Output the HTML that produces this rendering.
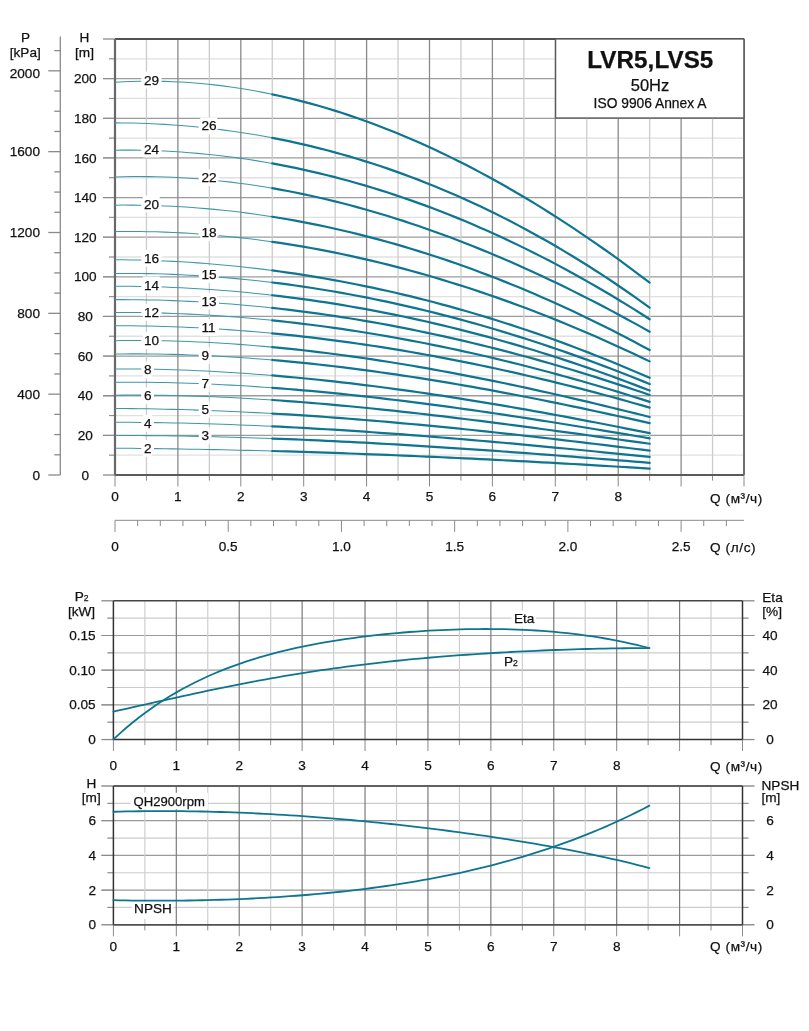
<!DOCTYPE html>
<html><head><meta charset="utf-8"><style>
html,body{margin:0;padding:0;background:#fff;}
svg{display:block;will-change:transform;}
text{font-family:"Liberation Sans", sans-serif;fill:#111;stroke:#111;stroke-width:0.25px;}
</style></head><body>
<svg width="809" height="1031" viewBox="0 0 809 1031">
<line x1="109" y1="455.18" x2="744" y2="455.18" stroke="#e0e0e0" stroke-width="1.3"/>
<line x1="109" y1="455.18" x2="115" y2="455.18" stroke="#8a8a8a" stroke-width="1"/>
<line x1="103" y1="435.36" x2="744" y2="435.36" stroke="#9c9c9c" stroke-width="1.3"/>
<line x1="103" y1="435.36" x2="115" y2="435.36" stroke="#8a8a8a" stroke-width="1"/>
<line x1="109" y1="415.55" x2="744" y2="415.55" stroke="#e0e0e0" stroke-width="1.3"/>
<line x1="109" y1="415.55" x2="115" y2="415.55" stroke="#8a8a8a" stroke-width="1"/>
<line x1="103" y1="395.73" x2="744" y2="395.73" stroke="#9c9c9c" stroke-width="1.3"/>
<line x1="103" y1="395.73" x2="115" y2="395.73" stroke="#8a8a8a" stroke-width="1"/>
<line x1="109" y1="375.91" x2="744" y2="375.91" stroke="#e0e0e0" stroke-width="1.3"/>
<line x1="109" y1="375.91" x2="115" y2="375.91" stroke="#8a8a8a" stroke-width="1"/>
<line x1="103" y1="356.09" x2="744" y2="356.09" stroke="#9c9c9c" stroke-width="1.3"/>
<line x1="103" y1="356.09" x2="115" y2="356.09" stroke="#8a8a8a" stroke-width="1"/>
<line x1="109" y1="336.27" x2="744" y2="336.27" stroke="#e0e0e0" stroke-width="1.3"/>
<line x1="109" y1="336.27" x2="115" y2="336.27" stroke="#8a8a8a" stroke-width="1"/>
<line x1="103" y1="316.46" x2="744" y2="316.46" stroke="#9c9c9c" stroke-width="1.3"/>
<line x1="103" y1="316.46" x2="115" y2="316.46" stroke="#8a8a8a" stroke-width="1"/>
<line x1="109" y1="296.64" x2="744" y2="296.64" stroke="#e0e0e0" stroke-width="1.3"/>
<line x1="109" y1="296.64" x2="115" y2="296.64" stroke="#8a8a8a" stroke-width="1"/>
<line x1="103" y1="276.82" x2="744" y2="276.82" stroke="#9c9c9c" stroke-width="1.3"/>
<line x1="103" y1="276.82" x2="115" y2="276.82" stroke="#8a8a8a" stroke-width="1"/>
<line x1="109" y1="257" x2="744" y2="257" stroke="#e0e0e0" stroke-width="1.3"/>
<line x1="109" y1="257" x2="115" y2="257" stroke="#8a8a8a" stroke-width="1"/>
<line x1="103" y1="237.18" x2="744" y2="237.18" stroke="#9c9c9c" stroke-width="1.3"/>
<line x1="103" y1="237.18" x2="115" y2="237.18" stroke="#8a8a8a" stroke-width="1"/>
<line x1="109" y1="217.37" x2="744" y2="217.37" stroke="#e0e0e0" stroke-width="1.3"/>
<line x1="109" y1="217.37" x2="115" y2="217.37" stroke="#8a8a8a" stroke-width="1"/>
<line x1="103" y1="197.55" x2="744" y2="197.55" stroke="#9c9c9c" stroke-width="1.3"/>
<line x1="103" y1="197.55" x2="115" y2="197.55" stroke="#8a8a8a" stroke-width="1"/>
<line x1="109" y1="177.73" x2="744" y2="177.73" stroke="#e0e0e0" stroke-width="1.3"/>
<line x1="109" y1="177.73" x2="115" y2="177.73" stroke="#8a8a8a" stroke-width="1"/>
<line x1="103" y1="157.91" x2="744" y2="157.91" stroke="#9c9c9c" stroke-width="1.3"/>
<line x1="103" y1="157.91" x2="115" y2="157.91" stroke="#8a8a8a" stroke-width="1"/>
<line x1="109" y1="138.09" x2="744" y2="138.09" stroke="#e0e0e0" stroke-width="1.3"/>
<line x1="109" y1="138.09" x2="115" y2="138.09" stroke="#8a8a8a" stroke-width="1"/>
<line x1="103" y1="118.28" x2="744" y2="118.28" stroke="#9c9c9c" stroke-width="1.3"/>
<line x1="103" y1="118.28" x2="115" y2="118.28" stroke="#8a8a8a" stroke-width="1"/>
<line x1="109" y1="98.46" x2="744" y2="98.46" stroke="#e0e0e0" stroke-width="1.3"/>
<line x1="109" y1="98.46" x2="115" y2="98.46" stroke="#8a8a8a" stroke-width="1"/>
<line x1="103" y1="78.64" x2="744" y2="78.64" stroke="#9c9c9c" stroke-width="1.3"/>
<line x1="103" y1="78.64" x2="115" y2="78.64" stroke="#8a8a8a" stroke-width="1"/>
<line x1="109" y1="58.82" x2="744" y2="58.82" stroke="#e0e0e0" stroke-width="1.3"/>
<line x1="109" y1="58.82" x2="115" y2="58.82" stroke="#8a8a8a" stroke-width="1"/>
<line x1="146.45" y1="39" x2="146.45" y2="475" stroke="#cccccc" stroke-width="1.3"/>
<line x1="177.9" y1="39" x2="177.9" y2="475" stroke="#8a8a8a" stroke-width="1.3"/>
<line x1="209.35" y1="39" x2="209.35" y2="475" stroke="#cccccc" stroke-width="1.3"/>
<line x1="240.8" y1="39" x2="240.8" y2="475" stroke="#8a8a8a" stroke-width="1.3"/>
<line x1="272.25" y1="39" x2="272.25" y2="475" stroke="#cccccc" stroke-width="1.3"/>
<line x1="303.7" y1="39" x2="303.7" y2="475" stroke="#8a8a8a" stroke-width="1.3"/>
<line x1="335.15" y1="39" x2="335.15" y2="475" stroke="#cccccc" stroke-width="1.3"/>
<line x1="366.6" y1="39" x2="366.6" y2="475" stroke="#8a8a8a" stroke-width="1.3"/>
<line x1="398.05" y1="39" x2="398.05" y2="475" stroke="#cccccc" stroke-width="1.3"/>
<line x1="429.5" y1="39" x2="429.5" y2="475" stroke="#8a8a8a" stroke-width="1.3"/>
<line x1="460.95" y1="39" x2="460.95" y2="475" stroke="#cccccc" stroke-width="1.3"/>
<line x1="492.4" y1="39" x2="492.4" y2="475" stroke="#8a8a8a" stroke-width="1.3"/>
<line x1="523.85" y1="39" x2="523.85" y2="475" stroke="#cccccc" stroke-width="1.3"/>
<line x1="555.3" y1="39" x2="555.3" y2="475" stroke="#8a8a8a" stroke-width="1.3"/>
<line x1="586.75" y1="39" x2="586.75" y2="475" stroke="#cccccc" stroke-width="1.3"/>
<line x1="618.2" y1="39" x2="618.2" y2="475" stroke="#8a8a8a" stroke-width="1.3"/>
<line x1="649.65" y1="39" x2="649.65" y2="475" stroke="#cccccc" stroke-width="1.3"/>
<line x1="681.1" y1="39" x2="681.1" y2="475" stroke="#8a8a8a" stroke-width="1.3"/>
<line x1="712.55" y1="39" x2="712.55" y2="475" stroke="#cccccc" stroke-width="1.3"/>
<line x1="744" y1="39" x2="744" y2="475" stroke="#8a8a8a" stroke-width="1.3"/>
<line x1="115" y1="475" x2="115" y2="486.5" stroke="#8a8a8a" stroke-width="1"/>
<line x1="146.45" y1="475" x2="146.45" y2="480.6" stroke="#8a8a8a" stroke-width="1"/>
<line x1="177.9" y1="475" x2="177.9" y2="486.5" stroke="#8a8a8a" stroke-width="1"/>
<line x1="209.35" y1="475" x2="209.35" y2="480.6" stroke="#8a8a8a" stroke-width="1"/>
<line x1="240.8" y1="475" x2="240.8" y2="486.5" stroke="#8a8a8a" stroke-width="1"/>
<line x1="272.25" y1="475" x2="272.25" y2="480.6" stroke="#8a8a8a" stroke-width="1"/>
<line x1="303.7" y1="475" x2="303.7" y2="486.5" stroke="#8a8a8a" stroke-width="1"/>
<line x1="335.15" y1="475" x2="335.15" y2="480.6" stroke="#8a8a8a" stroke-width="1"/>
<line x1="366.6" y1="475" x2="366.6" y2="486.5" stroke="#8a8a8a" stroke-width="1"/>
<line x1="398.05" y1="475" x2="398.05" y2="480.6" stroke="#8a8a8a" stroke-width="1"/>
<line x1="429.5" y1="475" x2="429.5" y2="486.5" stroke="#8a8a8a" stroke-width="1"/>
<line x1="460.95" y1="475" x2="460.95" y2="480.6" stroke="#8a8a8a" stroke-width="1"/>
<line x1="492.4" y1="475" x2="492.4" y2="486.5" stroke="#8a8a8a" stroke-width="1"/>
<line x1="523.85" y1="475" x2="523.85" y2="480.6" stroke="#8a8a8a" stroke-width="1"/>
<line x1="555.3" y1="475" x2="555.3" y2="486.5" stroke="#8a8a8a" stroke-width="1"/>
<line x1="586.75" y1="475" x2="586.75" y2="480.6" stroke="#8a8a8a" stroke-width="1"/>
<line x1="618.2" y1="475" x2="618.2" y2="486.5" stroke="#8a8a8a" stroke-width="1"/>
<line x1="649.65" y1="475" x2="649.65" y2="480.6" stroke="#8a8a8a" stroke-width="1"/>
<line x1="681.1" y1="475" x2="681.1" y2="486.5" stroke="#8a8a8a" stroke-width="1"/>
<line x1="712.55" y1="475" x2="712.55" y2="480.6" stroke="#8a8a8a" stroke-width="1"/>
<line x1="744" y1="475" x2="744" y2="486.5" stroke="#8a8a8a" stroke-width="1"/>
<line x1="103" y1="39" x2="115" y2="39" stroke="#8a8a8a" stroke-width="1.3"/>
<line x1="103" y1="475" x2="115" y2="475" stroke="#8a8a8a" stroke-width="1.3"/>
<line x1="115" y1="39" x2="744" y2="39" stroke="#525252" stroke-width="2"/>
<line x1="115" y1="475" x2="744" y2="475" stroke="#5a5a5a" stroke-width="2"/>
<line x1="115" y1="39" x2="115" y2="475" stroke="#686868" stroke-width="2.2"/>
<line x1="744" y1="39" x2="744" y2="475" stroke="#707070" stroke-width="2"/>
<line x1="60.3" y1="36.4" x2="60.3" y2="475" stroke="#8a8a8a" stroke-width="1.3"/>
<line x1="48.3" y1="475" x2="60.3" y2="475" stroke="#8a8a8a" stroke-width="1.3"/>
<text x="40" y="479.6" font-size="13.6" text-anchor="end" font-weight="normal" >0</text>
<line x1="54.3" y1="454.79" x2="60.3" y2="454.79" stroke="#8a8a8a" stroke-width="1.3"/>
<line x1="54.3" y1="434.58" x2="60.3" y2="434.58" stroke="#8a8a8a" stroke-width="1.3"/>
<line x1="54.3" y1="414.37" x2="60.3" y2="414.37" stroke="#8a8a8a" stroke-width="1.3"/>
<line x1="48.3" y1="394.17" x2="60.3" y2="394.17" stroke="#8a8a8a" stroke-width="1.3"/>
<text x="40" y="398.77" font-size="13.6" text-anchor="end" font-weight="normal" >400</text>
<line x1="54.3" y1="373.96" x2="60.3" y2="373.96" stroke="#8a8a8a" stroke-width="1.3"/>
<line x1="54.3" y1="353.75" x2="60.3" y2="353.75" stroke="#8a8a8a" stroke-width="1.3"/>
<line x1="54.3" y1="333.54" x2="60.3" y2="333.54" stroke="#8a8a8a" stroke-width="1.3"/>
<line x1="48.3" y1="313.33" x2="60.3" y2="313.33" stroke="#8a8a8a" stroke-width="1.3"/>
<text x="40" y="317.93" font-size="13.6" text-anchor="end" font-weight="normal" >800</text>
<line x1="54.3" y1="293.12" x2="60.3" y2="293.12" stroke="#8a8a8a" stroke-width="1.3"/>
<line x1="54.3" y1="272.91" x2="60.3" y2="272.91" stroke="#8a8a8a" stroke-width="1.3"/>
<line x1="54.3" y1="252.7" x2="60.3" y2="252.7" stroke="#8a8a8a" stroke-width="1.3"/>
<line x1="48.3" y1="232.5" x2="60.3" y2="232.5" stroke="#8a8a8a" stroke-width="1.3"/>
<text x="40" y="237.1" font-size="13.6" text-anchor="end" font-weight="normal" >1200</text>
<line x1="54.3" y1="212.29" x2="60.3" y2="212.29" stroke="#8a8a8a" stroke-width="1.3"/>
<line x1="54.3" y1="192.08" x2="60.3" y2="192.08" stroke="#8a8a8a" stroke-width="1.3"/>
<line x1="54.3" y1="171.87" x2="60.3" y2="171.87" stroke="#8a8a8a" stroke-width="1.3"/>
<line x1="48.3" y1="151.66" x2="60.3" y2="151.66" stroke="#8a8a8a" stroke-width="1.3"/>
<text x="40" y="156.26" font-size="13.6" text-anchor="end" font-weight="normal" >1600</text>
<line x1="54.3" y1="131.45" x2="60.3" y2="131.45" stroke="#8a8a8a" stroke-width="1.3"/>
<line x1="54.3" y1="111.24" x2="60.3" y2="111.24" stroke="#8a8a8a" stroke-width="1.3"/>
<line x1="54.3" y1="91.03" x2="60.3" y2="91.03" stroke="#8a8a8a" stroke-width="1.3"/>
<line x1="48.3" y1="70.83" x2="60.3" y2="70.83" stroke="#8a8a8a" stroke-width="1.3"/>
<text x="40" y="77.73" font-size="13.6" text-anchor="end" font-weight="normal" >2000</text>
<line x1="54.3" y1="50.62" x2="60.3" y2="50.62" stroke="#8a8a8a" stroke-width="1.3"/>
<text x="25.5" y="41.5" font-size="13.6" text-anchor="middle" font-weight="normal" >P</text>
<text x="25.3" y="56.5" font-size="13.6" text-anchor="middle" font-weight="normal" >[kPa]</text>
<text x="85.3" y="479.6" font-size="13.6" text-anchor="middle" font-weight="normal" >0</text>
<text x="85.3" y="439.96" font-size="13.6" text-anchor="middle" font-weight="normal" >20</text>
<text x="85.3" y="400.33" font-size="13.6" text-anchor="middle" font-weight="normal" >40</text>
<text x="85.3" y="360.69" font-size="13.6" text-anchor="middle" font-weight="normal" >60</text>
<text x="85.3" y="321.06" font-size="13.6" text-anchor="middle" font-weight="normal" >80</text>
<text x="85.3" y="281.42" font-size="13.6" text-anchor="middle" font-weight="normal" >100</text>
<text x="85.3" y="241.78" font-size="13.6" text-anchor="middle" font-weight="normal" >120</text>
<text x="85.3" y="202.15" font-size="13.6" text-anchor="middle" font-weight="normal" >140</text>
<text x="85.3" y="162.51" font-size="13.6" text-anchor="middle" font-weight="normal" >160</text>
<text x="85.3" y="122.88" font-size="13.6" text-anchor="middle" font-weight="normal" >180</text>
<text x="85.3" y="83.24" font-size="13.6" text-anchor="middle" font-weight="normal" >200</text>
<text x="84.5" y="41.5" font-size="13.6" text-anchor="middle" font-weight="normal" >H</text>
<text x="84.5" y="56.5" font-size="13.6" text-anchor="middle" font-weight="normal" >[m]</text>
<text x="115" y="501.2" font-size="13.6" text-anchor="middle" font-weight="normal" >0</text>
<text x="177.9" y="501.2" font-size="13.6" text-anchor="middle" font-weight="normal" >1</text>
<text x="240.8" y="501.2" font-size="13.6" text-anchor="middle" font-weight="normal" >2</text>
<text x="303.7" y="501.2" font-size="13.6" text-anchor="middle" font-weight="normal" >3</text>
<text x="366.6" y="501.2" font-size="13.6" text-anchor="middle" font-weight="normal" >4</text>
<text x="429.5" y="501.2" font-size="13.6" text-anchor="middle" font-weight="normal" >5</text>
<text x="492.4" y="501.2" font-size="13.6" text-anchor="middle" font-weight="normal" >6</text>
<text x="555.3" y="501.2" font-size="13.6" text-anchor="middle" font-weight="normal" >7</text>
<text x="618.2" y="501.2" font-size="13.6" text-anchor="middle" font-weight="normal" >8</text>
<text x="710" y="503" font-size="13.6" text-anchor="start" font-weight="normal" textLength="52.3" lengthAdjust="spacing">Q (м³/ч)</text>
<polyline points="115,82.17 123.28,81.74 131.55,81.42 139.83,81.23 148.11,81.15 156.38,81.2 164.66,81.37 172.93,81.66 181.21,82.07 189.49,82.6 197.76,83.25 206.04,84.01 214.32,84.89 222.59,85.89 230.87,87.01 239.14,88.24 247.42,89.58 255.7,91.04 263.97,92.62 272.25,94.3" fill="none" stroke="#3d97aa" stroke-width="1.05"/>
<polyline points="272.25,94.3 279.95,95.97 287.65,97.74 295.36,99.61 303.06,101.57 310.76,103.63 318.46,105.79 326.16,108.04 333.87,110.38 341.57,112.82 349.27,115.35 356.97,117.98 364.67,120.7 372.38,123.51 380.08,126.41 387.78,129.41 395.48,132.5 403.18,135.67 410.89,138.94 418.59,142.3 426.29,145.75 433.99,149.28 441.69,152.91 449.4,156.62 457.1,160.42 464.8,164.31 472.5,168.28 480.21,172.35 487.91,176.49 495.61,180.73 503.31,185.04 511.01,189.45 518.72,193.93 526.42,198.5 534.12,203.16 541.82,207.9 549.52,212.72 557.23,217.62 564.93,222.6 572.63,227.66 580.33,232.81 588.03,238.04 595.74,243.34 603.44,248.73 611.14,254.19 618.84,259.73 626.54,265.35 634.25,271.05 641.95,276.82 649.65,282.68" fill="none" stroke="#0e7590" stroke-width="2.2" stroke-linejoin="round" stroke-linecap="round"/>
<polyline points="115,122.86 123.28,122.92 131.55,123.05 139.83,123.26 148.11,123.56 156.38,123.93 164.66,124.38 172.93,124.92 181.21,125.54 189.49,126.24 197.76,127.02 206.04,127.88 214.32,128.83 222.59,129.86 230.87,130.98 239.14,132.18 247.42,133.46 255.7,134.84 263.97,136.29 272.25,137.84" fill="none" stroke="#3d97aa" stroke-width="1.05"/>
<polyline points="272.25,137.84 279.95,139.35 287.65,140.94 295.36,142.61 303.06,144.35 310.76,146.17 318.46,148.07 326.16,150.04 333.87,152.09 341.57,154.22 349.27,156.43 356.97,158.72 364.67,161.09 372.38,163.53 380.08,166.06 387.78,168.66 395.48,171.35 403.18,174.12 410.89,176.97 418.59,179.9 426.29,182.91 433.99,186.01 441.69,189.19 449.4,192.45 457.1,195.79 464.8,199.22 472.5,202.74 480.21,206.34 487.91,210.02 495.61,213.79 503.31,217.64 511.01,221.58 518.72,225.61 526.42,229.72 534.12,233.92 541.82,238.21 549.52,242.58 557.23,247.05 564.93,251.6 572.63,256.24 580.33,260.97 588.03,265.79 595.74,270.7 603.44,275.7 611.14,280.79 618.84,285.98 626.54,291.25 634.25,296.61 641.95,302.07 649.65,307.62" fill="none" stroke="#0e7590" stroke-width="2.2" stroke-linejoin="round" stroke-linecap="round"/>
<polyline points="115,150.17 123.28,150.11 131.55,150.14 139.83,150.25 148.11,150.44 156.38,150.72 164.66,151.08 172.93,151.52 181.21,152.05 189.49,152.67 197.76,153.37 206.04,154.15 214.32,155.01 222.59,155.97 230.87,157 239.14,158.12 247.42,159.32 255.7,160.61 263.97,161.98 272.25,163.44" fill="none" stroke="#3d97aa" stroke-width="1.05"/>
<polyline points="272.25,163.44 279.95,164.87 287.65,166.37 295.36,167.95 303.06,169.6 310.76,171.32 318.46,173.12 326.16,174.98 333.87,176.93 341.57,178.94 349.27,181.03 356.97,183.19 364.67,185.42 372.38,187.72 380.08,190.1 387.78,192.55 395.48,195.08 403.18,197.67 410.89,200.34 418.59,203.09 426.29,205.9 433.99,208.79 441.69,211.75 449.4,214.78 457.1,217.89 464.8,221.07 472.5,224.32 480.21,227.65 487.91,231.05 495.61,234.52 503.31,238.06 511.01,241.68 518.72,245.37 526.42,249.13 534.12,252.96 541.82,256.87 549.52,260.85 557.23,264.9 564.93,269.03 572.63,273.23 580.33,277.5 588.03,281.85 595.74,286.26 603.44,290.75 611.14,295.32 618.84,299.95 626.54,304.66 634.25,309.44 641.95,314.3 649.65,319.22" fill="none" stroke="#0e7590" stroke-width="2.2" stroke-linejoin="round" stroke-linecap="round"/>
<polyline points="115,176.96 123.28,176.73 131.55,176.59 139.83,176.55 148.11,176.6 156.38,176.74 164.66,176.98 172.93,177.3 181.21,177.72 189.49,178.23 197.76,178.83 206.04,179.52 214.32,180.3 222.59,181.16 230.87,182.12 239.14,183.16 247.42,184.29 255.7,185.5 263.97,186.8 272.25,188.18" fill="none" stroke="#3d97aa" stroke-width="1.05"/>
<polyline points="272.25,188.18 279.95,189.55 287.65,190.98 295.36,192.49 303.06,194.07 310.76,195.72 318.46,197.45 326.16,199.24 333.87,201.1 341.57,203.03 349.27,205.03 356.97,207.1 364.67,209.24 372.38,211.44 380.08,213.71 387.78,216.05 395.48,218.45 403.18,220.92 410.89,223.45 418.59,226.05 426.29,228.72 433.99,231.44 441.69,234.23 449.4,237.08 457.1,240 464.8,242.97 472.5,246.01 480.21,249.11 487.91,252.27 495.61,255.49 503.31,258.77 511.01,262.1 518.72,265.5 526.42,268.95 534.12,272.47 541.82,276.03 549.52,279.66 557.23,283.34 564.93,287.08 572.63,290.87 580.33,294.72 588.03,298.62 595.74,302.58 603.44,306.58 611.14,310.65 618.84,314.76 626.54,318.93 634.25,323.14 641.95,327.41 649.65,331.73" fill="none" stroke="#0e7590" stroke-width="2.2" stroke-linejoin="round" stroke-linecap="round"/>
<polyline points="115,205.16 123.28,205.1 131.55,205.12 139.83,205.21 148.11,205.37 156.38,205.61 164.66,205.93 172.93,206.32 181.21,206.78 189.49,207.31 197.76,207.93 206.04,208.61 214.32,209.37 222.59,210.2 230.87,211.1 239.14,212.08 247.42,213.13 255.7,214.26 263.97,215.45 272.25,216.72" fill="none" stroke="#3d97aa" stroke-width="1.05"/>
<polyline points="272.25,216.72 279.95,217.97 287.65,219.28 295.36,220.65 303.06,222.09 310.76,223.59 318.46,225.15 326.16,226.77 333.87,228.45 341.57,230.2 349.27,232.01 356.97,233.88 364.67,235.82 372.38,237.81 380.08,239.87 387.78,241.99 395.48,244.17 403.18,246.41 410.89,248.71 418.59,251.08 426.29,253.5 433.99,255.99 441.69,258.54 449.4,261.15 457.1,263.82 464.8,266.55 472.5,269.34 480.21,272.19 487.91,275.1 495.61,278.08 503.31,281.11 511.01,284.2 518.72,287.35 526.42,290.57 534.12,293.84 541.82,297.17 549.52,300.57 557.23,304.02 564.93,307.53 572.63,311.1 580.33,314.73 588.03,318.42 595.74,322.17 603.44,325.98 611.14,329.85 618.84,333.78 626.54,337.76 634.25,341.8 641.95,345.91 649.65,350.07" fill="none" stroke="#0e7590" stroke-width="2.2" stroke-linejoin="round" stroke-linecap="round"/>
<polyline points="115,231.52 123.28,231.45 131.55,231.45 139.83,231.51 148.11,231.65 156.38,231.85 164.66,232.12 172.93,232.46 181.21,232.87 189.49,233.35 197.76,233.9 206.04,234.51 214.32,235.19 222.59,235.94 230.87,236.75 239.14,237.63 247.42,238.58 255.7,239.6 263.97,240.68 272.25,241.83" fill="none" stroke="#3d97aa" stroke-width="1.05"/>
<polyline points="272.25,241.83 279.95,242.96 287.65,244.14 295.36,245.38 303.06,246.68 310.76,248.04 318.46,249.45 326.16,250.92 333.87,252.44 341.57,254.02 349.27,255.66 356.97,257.35 364.67,259.1 372.38,260.9 380.08,262.76 387.78,264.67 395.48,266.64 403.18,268.66 410.89,270.74 418.59,272.87 426.29,275.05 433.99,277.29 441.69,279.59 449.4,281.94 457.1,284.34 464.8,286.79 472.5,289.3 480.21,291.86 487.91,294.48 495.61,297.14 503.31,299.86 511.01,302.64 518.72,305.46 526.42,308.34 534.12,311.27 541.82,314.25 549.52,317.28 557.23,320.37 564.93,323.51 572.63,326.7 580.33,329.93 588.03,333.23 595.74,336.57 603.44,339.96 611.14,343.4 618.84,346.89 626.54,350.44 634.25,354.03 641.95,357.68 649.65,361.37" fill="none" stroke="#0e7590" stroke-width="2.2" stroke-linejoin="round" stroke-linecap="round"/>
<polyline points="115,259.73 123.28,259.8 131.55,259.92 139.83,260.1 148.11,260.33 156.38,260.62 164.66,260.97 172.93,261.36 181.21,261.82 189.49,262.33 197.76,262.89 206.04,263.51 214.32,264.18 222.59,264.91 230.87,265.7 239.14,266.54 247.42,267.43 255.7,268.38 263.97,269.39 272.25,270.45" fill="none" stroke="#3d97aa" stroke-width="1.05"/>
<polyline points="272.25,270.45 279.95,271.48 287.65,272.57 295.36,273.7 303.06,274.88 310.76,276.11 318.46,277.38 326.16,278.71 333.87,280.08 341.57,281.5 349.27,282.97 356.97,284.48 364.67,286.05 372.38,287.66 380.08,289.32 387.78,291.03 395.48,292.78 403.18,294.59 410.89,296.44 418.59,298.34 426.29,300.29 433.99,302.29 441.69,304.33 449.4,306.43 457.1,308.57 464.8,310.76 472.5,313 480.21,315.28 487.91,317.62 495.61,320 503.31,322.44 511.01,324.92 518.72,327.44 526.42,330.02 534.12,332.65 541.82,335.32 549.52,338.04 557.23,340.82 564.93,343.64 572.63,346.5 580.33,349.42 588.03,352.39 595.74,355.4 603.44,358.46 611.14,361.57 618.84,364.73 626.54,367.94 634.25,371.2 641.95,374.5 649.65,377.86" fill="none" stroke="#0e7590" stroke-width="2.2" stroke-linejoin="round" stroke-linecap="round"/>
<polyline points="115,273.44 123.28,273.4 131.55,273.42 139.83,273.5 148.11,273.63 156.38,273.82 164.66,274.07 172.93,274.37 181.21,274.74 189.49,275.16 197.76,275.64 206.04,276.17 214.32,276.76 222.59,277.41 230.87,278.11 239.14,278.87 247.42,279.69 255.7,280.56 263.97,281.49 272.25,282.48" fill="none" stroke="#3d97aa" stroke-width="1.05"/>
<polyline points="272.25,282.48 279.95,283.44 287.65,284.45 295.36,285.52 303.06,286.62 310.76,287.78 318.46,288.99 326.16,290.24 333.87,291.54 341.57,292.88 349.27,294.28 356.97,295.72 364.67,297.2 372.38,298.74 380.08,300.32 387.78,301.94 395.48,303.61 403.18,305.33 410.89,307.1 418.59,308.91 426.29,310.77 433.99,312.67 441.69,314.62 449.4,316.61 457.1,318.65 464.8,320.73 472.5,322.86 480.21,325.04 487.91,327.26 495.61,329.52 503.31,331.83 511.01,334.18 518.72,336.58 526.42,339.02 534.12,341.51 541.82,344.04 549.52,346.62 557.23,349.23 564.93,351.9 572.63,354.6 580.33,357.35 588.03,360.14 595.74,362.98 603.44,365.86 611.14,368.78 618.84,371.74 626.54,374.75 634.25,377.8 641.95,380.89 649.65,384.03" fill="none" stroke="#0e7590" stroke-width="2.2" stroke-linejoin="round" stroke-linecap="round"/>
<polyline points="115,286.16 123.28,286.19 131.55,286.27 139.83,286.4 148.11,286.58 156.38,286.81 164.66,287.08 172.93,287.41 181.21,287.79 189.49,288.21 197.76,288.69 206.04,289.22 214.32,289.79 222.59,290.42 230.87,291.09 239.14,291.82 247.42,292.59 255.7,293.42 263.97,294.29 272.25,295.22" fill="none" stroke="#3d97aa" stroke-width="1.05"/>
<polyline points="272.25,295.22 279.95,296.12 287.65,297.07 295.36,298.06 303.06,299.1 310.76,300.17 318.46,301.3 326.16,302.46 333.87,303.67 341.57,304.92 349.27,306.21 356.97,307.55 364.67,308.93 372.38,310.36 380.08,311.82 387.78,313.33 395.48,314.89 403.18,316.49 410.89,318.13 418.59,319.81 426.29,321.54 433.99,323.31 441.69,325.13 449.4,326.98 457.1,328.89 464.8,330.83 472.5,332.82 480.21,334.85 487.91,336.93 495.61,339.05 503.31,341.21 511.01,343.42 518.72,345.67 526.42,347.96 534.12,350.3 541.82,352.68 549.52,355.1 557.23,357.57 564.93,360.08 572.63,362.64 580.33,365.24 588.03,367.88 595.74,370.57 603.44,373.3 611.14,376.07 618.84,378.89 626.54,381.75 634.25,384.65 641.95,387.6 649.65,390.59" fill="none" stroke="#0e7590" stroke-width="2.2" stroke-linejoin="round" stroke-linecap="round"/>
<polyline points="115,299.64 123.28,299.63 131.55,299.67 139.83,299.76 148.11,299.9 156.38,300.09 164.66,300.33 172.93,300.63 181.21,300.97 189.49,301.36 197.76,301.8 206.04,302.28 214.32,302.82 222.59,303.4 230.87,304.04 239.14,304.72 247.42,305.45 255.7,306.23 263.97,307.05 272.25,307.92" fill="none" stroke="#3d97aa" stroke-width="1.05"/>
<polyline points="272.25,307.92 279.95,308.78 287.65,309.67 295.36,310.61 303.06,311.58 310.76,312.6 318.46,313.66 326.16,314.75 333.87,315.89 341.57,317.06 349.27,318.28 356.97,319.53 364.67,320.83 372.38,322.16 380.08,323.53 387.78,324.95 395.48,326.4 403.18,327.88 410.89,329.41 418.59,330.97 426.29,332.58 433.99,334.22 441.69,335.9 449.4,337.61 457.1,339.37 464.8,341.16 472.5,342.99 480.21,344.85 487.91,346.75 495.61,348.69 503.31,350.67 511.01,352.68 518.72,354.73 526.42,356.81 534.12,358.93 541.82,361.09 549.52,363.28 557.23,365.51 564.93,367.77 572.63,370.07 580.33,372.4 588.03,374.77 595.74,377.17 603.44,379.61 611.14,382.08 618.84,384.59 626.54,387.13 634.25,389.7 641.95,392.31 649.65,394.95" fill="none" stroke="#0e7590" stroke-width="2.2" stroke-linejoin="round" stroke-linecap="round"/>
<polyline points="115,312.44 123.28,312.44 131.55,312.49 139.83,312.58 148.11,312.72 156.38,312.91 164.66,313.14 172.93,313.42 181.21,313.75 189.49,314.12 197.76,314.54 206.04,315.01 214.32,315.52 222.59,316.07 230.87,316.67 239.14,317.32 247.42,318.01 255.7,318.75 263.97,319.52 272.25,320.35" fill="none" stroke="#3d97aa" stroke-width="1.05"/>
<polyline points="272.25,320.35 279.95,321.15 287.65,322 295.36,322.88 303.06,323.8 310.76,324.76 318.46,325.75 326.16,326.78 333.87,327.85 341.57,328.96 349.27,330.1 356.97,331.28 364.67,332.5 372.38,333.75 380.08,335.04 387.78,336.36 395.48,337.72 403.18,339.12 410.89,340.55 418.59,342.02 426.29,343.52 433.99,345.06 441.69,346.63 449.4,348.24 457.1,349.88 464.8,351.56 472.5,353.27 480.21,355.02 487.91,356.8 495.61,358.62 503.31,360.46 511.01,362.35 518.72,364.26 526.42,366.21 534.12,368.2 541.82,370.21 549.52,372.26 557.23,374.34 564.93,376.46 572.63,378.6 580.33,380.78 588.03,383 595.74,385.24 603.44,387.52 611.14,389.82 618.84,392.16 626.54,394.54 634.25,396.94 641.95,399.37 649.65,401.84" fill="none" stroke="#0e7590" stroke-width="2.2" stroke-linejoin="round" stroke-linecap="round"/>
<polyline points="115,325.75 123.28,325.77 131.55,325.82 139.83,325.93 148.11,326.07 156.38,326.26 164.66,326.49 172.93,326.76 181.21,327.08 189.49,327.44 197.76,327.84 206.04,328.29 214.32,328.77 222.59,329.3 230.87,329.87 239.14,330.47 247.42,331.12 255.7,331.82 263.97,332.55 272.25,333.32" fill="none" stroke="#3d97aa" stroke-width="1.05"/>
<polyline points="272.25,333.32 279.95,334.07 287.65,334.86 295.36,335.68 303.06,336.54 310.76,337.43 318.46,338.35 326.16,339.31 333.87,340.3 341.57,341.33 349.27,342.39 356.97,343.48 364.67,344.6 372.38,345.76 380.08,346.94 387.78,348.17 395.48,349.42 403.18,350.7 410.89,352.02 418.59,353.37 426.29,354.75 433.99,356.16 441.69,357.6 449.4,359.07 457.1,360.57 464.8,362.11 472.5,363.67 480.21,365.26 487.91,366.89 495.61,368.54 503.31,370.23 511.01,371.94 518.72,373.68 526.42,375.45 534.12,377.25 541.82,379.08 549.52,380.94 557.23,382.82 564.93,384.74 572.63,386.68 580.33,388.65 588.03,390.65 595.74,392.67 603.44,394.73 611.14,396.81 618.84,398.91 626.54,401.05 634.25,403.21 641.95,405.39 649.65,407.61" fill="none" stroke="#0e7590" stroke-width="2.2" stroke-linejoin="round" stroke-linecap="round"/>
<polyline points="115,340.71 123.28,340.6 131.55,340.55 139.83,340.54 148.11,340.59 156.38,340.69 164.66,340.84 172.93,341.04 181.21,341.29 189.49,341.58 197.76,341.93 206.04,342.32 214.32,342.76 222.59,343.25 230.87,343.78 239.14,344.36 247.42,344.98 255.7,345.65 263.97,346.36 272.25,347.11" fill="none" stroke="#3d97aa" stroke-width="1.05"/>
<polyline points="272.25,347.11 279.95,347.85 287.65,348.62 295.36,349.43 303.06,350.28 310.76,351.16 318.46,352.07 326.16,353.02 333.87,354 341.57,355.01 349.27,356.06 356.97,357.14 364.67,358.25 372.38,359.39 380.08,360.56 387.78,361.76 395.48,362.99 403.18,364.25 410.89,365.54 418.59,366.85 426.29,368.2 433.99,369.57 441.69,370.96 449.4,372.39 457.1,373.83 464.8,375.31 472.5,376.81 480.21,378.33 487.91,379.88 495.61,381.45 503.31,383.04 511.01,384.65 518.72,386.29 526.42,387.95 534.12,389.63 541.82,391.32 549.52,393.04 557.23,394.78 564.93,396.54 572.63,398.32 580.33,400.11 588.03,401.92 595.74,403.75 603.44,405.59 611.14,407.46 618.84,409.33 626.54,411.22 634.25,413.13 641.95,415.05 649.65,416.99" fill="none" stroke="#0e7590" stroke-width="2.2" stroke-linejoin="round" stroke-linecap="round"/>
<polyline points="115,353.99 123.28,353.9 131.55,353.87 139.83,353.88 148.11,353.93 156.38,354.04 164.66,354.19 172.93,354.38 181.21,354.62 189.49,354.9 197.76,355.22 206.04,355.59 214.32,356 222.59,356.45 230.87,356.94 239.14,357.47 247.42,358.04 255.7,358.66 263.97,359.31 272.25,359.99" fill="none" stroke="#3d97aa" stroke-width="1.05"/>
<polyline points="272.25,359.99 279.95,360.67 287.65,361.38 295.36,362.12 303.06,362.89 310.76,363.69 318.46,364.52 326.16,365.38 333.87,366.27 341.57,367.2 349.27,368.15 356.97,369.12 364.67,370.13 372.38,371.17 380.08,372.23 387.78,373.32 395.48,374.43 403.18,375.57 410.89,376.74 418.59,377.93 426.29,379.14 433.99,380.38 441.69,381.64 449.4,382.93 457.1,384.24 464.8,385.57 472.5,386.92 480.21,388.3 487.91,389.7 495.61,391.11 503.31,392.55 511.01,394.01 518.72,395.48 526.42,396.98 534.12,398.49 541.82,400.02 549.52,401.57 557.23,403.14 564.93,404.72 572.63,406.32 580.33,407.94 588.03,409.57 595.74,411.22 603.44,412.88 611.14,414.55 618.84,416.24 626.54,417.94 634.25,419.66 641.95,421.39 649.65,423.13" fill="none" stroke="#0e7590" stroke-width="2.2" stroke-linejoin="round" stroke-linecap="round"/>
<polyline points="115,368.98 123.28,368.97 131.55,369 139.83,369.07 148.11,369.18 156.38,369.33 164.66,369.53 172.93,369.76 181.21,370.03 189.49,370.34 197.76,370.69 206.04,371.07 214.32,371.5 222.59,371.95 230.87,372.45 239.14,372.98 247.42,373.55 255.7,374.15 263.97,374.78 272.25,375.45" fill="none" stroke="#3d97aa" stroke-width="1.05"/>
<polyline points="272.25,375.45 279.95,376.1 287.65,376.78 295.36,377.49 303.06,378.23 310.76,378.99 318.46,379.78 326.16,380.59 333.87,381.43 341.57,382.3 349.27,383.19 356.97,384.11 364.67,385.05 372.38,386.01 380.08,387 387.78,388.01 395.48,389.05 403.18,390.1 410.89,391.18 418.59,392.28 426.29,393.4 433.99,394.54 441.69,395.7 449.4,396.88 457.1,398.08 464.8,399.3 472.5,400.54 480.21,401.79 487.91,403.06 495.61,404.35 503.31,405.66 511.01,406.99 518.72,408.33 526.42,409.68 534.12,411.05 541.82,412.44 549.52,413.84 557.23,415.26 564.93,416.69 572.63,418.13 580.33,419.58 588.03,421.05 595.74,422.53 603.44,424.02 611.14,425.52 618.84,427.04 626.54,428.56 634.25,430.09 641.95,431.64 649.65,433.19" fill="none" stroke="#0e7590" stroke-width="2.2" stroke-linejoin="round" stroke-linecap="round"/>
<polyline points="115,382.23 123.28,382.19 131.55,382.19 139.83,382.23 148.11,382.31 156.38,382.43 164.66,382.58 172.93,382.78 181.21,383.01 189.49,383.27 197.76,383.57 206.04,383.91 214.32,384.28 222.59,384.69 230.87,385.12 239.14,385.6 247.42,386.1 255.7,386.64 263.97,387.2 272.25,387.8" fill="none" stroke="#3d97aa" stroke-width="1.05"/>
<polyline points="272.25,387.8 279.95,388.38 287.65,388.99 295.36,389.63 303.06,390.29 310.76,390.97 318.46,391.68 326.16,392.41 333.87,393.16 341.57,393.94 349.27,394.74 356.97,395.56 364.67,396.4 372.38,397.26 380.08,398.14 387.78,399.05 395.48,399.97 403.18,400.91 410.89,401.87 418.59,402.84 426.29,403.84 433.99,404.85 441.69,405.88 449.4,406.92 457.1,407.98 464.8,409.06 472.5,410.15 480.21,411.26 487.91,412.37 495.61,413.51 503.31,414.65 511.01,415.81 518.72,416.98 526.42,418.17 534.12,419.36 541.82,420.56 549.52,421.78 557.23,423 564.93,424.24 572.63,425.48 580.33,426.74 588.03,428 595.74,429.27 603.44,430.54 611.14,431.82 618.84,433.11 626.54,434.41 634.25,435.71 641.95,437.01 649.65,438.32" fill="none" stroke="#0e7590" stroke-width="2.2" stroke-linejoin="round" stroke-linecap="round"/>
<polyline points="115,395.19 123.28,395.12 131.55,395.09 139.83,395.1 148.11,395.15 156.38,395.23 164.66,395.35 172.93,395.51 181.21,395.7 189.49,395.93 197.76,396.19 206.04,396.49 214.32,396.81 222.59,397.17 230.87,397.57 239.14,397.99 247.42,398.44 255.7,398.93 263.97,399.44 272.25,399.98" fill="none" stroke="#3d97aa" stroke-width="1.05"/>
<polyline points="272.25,399.98 279.95,400.51 287.65,401.06 295.36,401.64 303.06,402.23 310.76,402.85 318.46,403.49 326.16,404.15 333.87,404.83 341.57,405.54 349.27,406.26 356.97,407 364.67,407.75 372.38,408.53 380.08,409.32 387.78,410.13 395.48,410.95 403.18,411.79 410.89,412.65 418.59,413.52 426.29,414.4 433.99,415.3 441.69,416.21 449.4,417.13 457.1,418.07 464.8,419.01 472.5,419.97 480.21,420.93 487.91,421.91 495.61,422.9 503.31,423.89 511.01,424.89 518.72,425.9 526.42,426.92 534.12,427.94 541.82,428.97 549.52,430.01 557.23,431.05 564.93,432.09 572.63,433.14 580.33,434.19 588.03,435.25 595.74,436.31 603.44,437.36 611.14,438.42 618.84,439.49 626.54,440.55 634.25,441.61 641.95,442.67 649.65,443.73" fill="none" stroke="#0e7590" stroke-width="2.2" stroke-linejoin="round" stroke-linecap="round"/>
<polyline points="115,408.49 123.28,408.54 131.55,408.62 139.83,408.72 148.11,408.85 156.38,409 164.66,409.17 172.93,409.37 181.21,409.6 189.49,409.84 197.76,410.12 206.04,410.41 214.32,410.72 222.59,411.06 230.87,411.42 239.14,411.8 247.42,412.2 255.7,412.63 263.97,413.07 272.25,413.53" fill="none" stroke="#3d97aa" stroke-width="1.05"/>
<polyline points="272.25,413.53 279.95,413.98 287.65,414.45 295.36,414.93 303.06,415.43 310.76,415.94 318.46,416.47 326.16,417.02 333.87,417.58 341.57,418.16 349.27,418.75 356.97,419.36 364.67,419.98 372.38,420.61 380.08,421.26 387.78,421.93 395.48,422.6 403.18,423.29 410.89,423.99 418.59,424.71 426.29,425.43 433.99,426.17 441.69,426.92 449.4,427.68 457.1,428.45 464.8,429.24 472.5,430.03 480.21,430.84 487.91,431.65 495.61,432.48 503.31,433.31 511.01,434.16 518.72,435.01 526.42,435.87 534.12,436.74 541.82,437.62 549.52,438.51 557.23,439.41 564.93,440.31 572.63,441.22 580.33,442.14 588.03,443.06 595.74,443.99 603.44,444.93 611.14,445.87 618.84,446.82 626.54,447.78 634.25,448.74 641.95,449.7 649.65,450.67" fill="none" stroke="#0e7590" stroke-width="2.2" stroke-linejoin="round" stroke-linecap="round"/>
<polyline points="115,422.26 123.28,422.29 131.55,422.34 139.83,422.41 148.11,422.51 156.38,422.62 164.66,422.76 172.93,422.92 181.21,423.1 189.49,423.3 197.76,423.52 206.04,423.76 214.32,424.02 222.59,424.29 230.87,424.59 239.14,424.9 247.42,425.23 255.7,425.59 263.97,425.95 272.25,426.34" fill="none" stroke="#3d97aa" stroke-width="1.05"/>
<polyline points="272.25,426.34 279.95,426.71 287.65,427.1 295.36,427.5 303.06,427.92 310.76,428.34 318.46,428.79 326.16,429.24 333.87,429.71 341.57,430.19 349.27,430.69 356.97,431.19 364.67,431.71 372.38,432.24 380.08,432.78 387.78,433.33 395.48,433.89 403.18,434.47 410.89,435.05 418.59,435.64 426.29,436.25 433.99,436.86 441.69,437.48 449.4,438.11 457.1,438.75 464.8,439.4 472.5,440.06 480.21,440.73 487.91,441.4 495.61,442.08 503.31,442.77 511.01,443.47 518.72,444.17 526.42,444.88 534.12,445.6 541.82,446.32 549.52,447.05 557.23,447.78 564.93,448.52 572.63,449.27 580.33,450.02 588.03,450.77 595.74,451.53 603.44,452.29 611.14,453.06 618.84,453.83 626.54,454.61 634.25,455.38 641.95,456.16 649.65,456.95" fill="none" stroke="#0e7590" stroke-width="2.2" stroke-linejoin="round" stroke-linecap="round"/>
<polyline points="115,435.48 123.28,435.49 131.55,435.52 139.83,435.57 148.11,435.63 156.38,435.71 164.66,435.81 172.93,435.93 181.21,436.06 189.49,436.21 197.76,436.37 206.04,436.55 214.32,436.75 222.59,436.96 230.87,437.18 239.14,437.42 247.42,437.68 255.7,437.95 263.97,438.23 272.25,438.53" fill="none" stroke="#3d97aa" stroke-width="1.05"/>
<polyline points="272.25,438.53 279.95,438.82 287.65,439.12 295.36,439.43 303.06,439.75 310.76,440.09 318.46,440.43 326.16,440.79 333.87,441.15 341.57,441.53 349.27,441.92 356.97,442.31 364.67,442.72 372.38,443.14 380.08,443.56 387.78,444 395.48,444.44 403.18,444.89 410.89,445.35 418.59,445.82 426.29,446.3 433.99,446.78 441.69,447.28 449.4,447.78 457.1,448.29 464.8,448.8 472.5,449.32 480.21,449.85 487.91,450.39 495.61,450.93 503.31,451.48 511.01,452.04 518.72,452.6 526.42,453.17 534.12,453.74 541.82,454.31 549.52,454.9 557.23,455.49 564.93,456.08 572.63,456.68 580.33,457.28 588.03,457.88 595.74,458.49 603.44,459.11 611.14,459.72 618.84,460.34 626.54,460.97 634.25,461.59 641.95,462.22 649.65,462.86" fill="none" stroke="#0e7590" stroke-width="2.2" stroke-linejoin="round" stroke-linecap="round"/>
<polyline points="115,448.2 123.28,448.27 131.55,448.35 139.83,448.43 148.11,448.53 156.38,448.64 164.66,448.75 172.93,448.87 181.21,449.01 189.49,449.15 197.76,449.3 206.04,449.45 214.32,449.62 222.59,449.8 230.87,449.98 239.14,450.17 247.42,450.37 255.7,450.58 263.97,450.8 272.25,451.02" fill="none" stroke="#3d97aa" stroke-width="1.05"/>
<polyline points="272.25,451.02 279.95,451.24 287.65,451.46 295.36,451.69 303.06,451.93 310.76,452.17 318.46,452.42 326.16,452.68 333.87,452.94 341.57,453.21 349.27,453.48 356.97,453.76 364.67,454.05 372.38,454.35 380.08,454.65 387.78,454.96 395.48,455.27 403.18,455.59 410.89,455.91 418.59,456.24 426.29,456.58 433.99,456.92 441.69,457.27 449.4,457.62 457.1,457.98 464.8,458.35 472.5,458.72 480.21,459.09 487.91,459.47 495.61,459.86 503.31,460.25 511.01,460.65 518.72,461.05 526.42,461.46 534.12,461.87 541.82,462.29 549.52,462.71 557.23,463.14 564.93,463.57 572.63,464.01 580.33,464.45 588.03,464.9 595.74,465.35 603.44,465.8 611.14,466.26 618.84,466.73 626.54,467.2 634.25,467.67 641.95,468.15 649.65,468.63" fill="none" stroke="#0e7590" stroke-width="2.2" stroke-linejoin="round" stroke-linecap="round"/>
<rect x="142.8" y="71.61" width="16.92" height="16.8" fill="#fff"/>
<rect x="141.2" y="77.01" width="20.32" height="6" fill="#fff"/>
<text x="144" y="84.61" font-size="13.6" text-anchor="start" font-weight="normal" >29</text>
<rect x="200.3" y="117.49" width="16.92" height="16.8" fill="#fff"/>
<rect x="198.7" y="122.89" width="20.32" height="6" fill="#fff"/>
<text x="201.5" y="130.49" font-size="13.6" text-anchor="start" font-weight="normal" >26</text>
<rect x="142.8" y="140.67" width="16.92" height="16.8" fill="#fff"/>
<rect x="141.2" y="146.07" width="20.32" height="6" fill="#fff"/>
<text x="144" y="153.67" font-size="13.6" text-anchor="start" font-weight="normal" >24</text>
<rect x="200.3" y="169.29" width="16.92" height="16.8" fill="#fff"/>
<rect x="198.7" y="174.69" width="20.32" height="6" fill="#fff"/>
<text x="201.5" y="182.29" font-size="13.6" text-anchor="start" font-weight="normal" >22</text>
<rect x="142.8" y="195.63" width="16.92" height="16.8" fill="#fff"/>
<rect x="141.2" y="201.03" width="20.32" height="6" fill="#fff"/>
<text x="144" y="208.63" font-size="13.6" text-anchor="start" font-weight="normal" >20</text>
<rect x="200.3" y="224.35" width="16.92" height="16.8" fill="#fff"/>
<rect x="198.7" y="229.75" width="20.32" height="6" fill="#fff"/>
<text x="201.5" y="237.35" font-size="13.6" text-anchor="start" font-weight="normal" >18</text>
<rect x="142.8" y="250.03" width="16.92" height="16.8" fill="#fff"/>
<rect x="141.2" y="255.43" width="20.32" height="6" fill="#fff"/>
<text x="144" y="263.03" font-size="13.6" text-anchor="start" font-weight="normal" >16</text>
<rect x="200.3" y="266.08" width="16.92" height="16.8" fill="#fff"/>
<rect x="198.7" y="271.48" width="20.32" height="6" fill="#fff"/>
<text x="201.5" y="279.08" font-size="13.6" text-anchor="start" font-weight="normal" >15</text>
<rect x="142.8" y="276.52" width="16.92" height="16.8" fill="#fff"/>
<rect x="141.2" y="281.92" width="20.32" height="6" fill="#fff"/>
<text x="144" y="289.52" font-size="13.6" text-anchor="start" font-weight="normal" >14</text>
<rect x="200.3" y="292.74" width="16.92" height="16.8" fill="#fff"/>
<rect x="198.7" y="298.14" width="20.32" height="6" fill="#fff"/>
<text x="201.5" y="305.74" font-size="13.6" text-anchor="start" font-weight="normal" >13</text>
<rect x="142.8" y="304" width="16.92" height="16.8" fill="#fff"/>
<rect x="141.2" y="309.4" width="20.32" height="6" fill="#fff"/>
<text x="144" y="317" font-size="13.6" text-anchor="start" font-weight="normal" >12</text>
<rect x="200.3" y="319.18" width="16.92" height="16.8" fill="#fff"/>
<rect x="198.7" y="324.58" width="20.32" height="6" fill="#fff"/>
<text x="201.5" y="332.18" font-size="13.6" text-anchor="start" font-weight="normal" >11</text>
<rect x="142.8" y="332.15" width="16.92" height="16.8" fill="#fff"/>
<rect x="141.2" y="337.55" width="20.32" height="6" fill="#fff"/>
<text x="144" y="345.15" font-size="13.6" text-anchor="start" font-weight="normal" >10</text>
<rect x="200.3" y="347.15" width="9.36" height="16.8" fill="#fff"/>
<rect x="198.7" y="352.55" width="12.76" height="6" fill="#fff"/>
<text x="201.5" y="360.15" font-size="13.6" text-anchor="start" font-weight="normal" >9</text>
<rect x="142.8" y="361.48" width="9.36" height="16.8" fill="#fff"/>
<rect x="141.2" y="366.88" width="12.76" height="6" fill="#fff"/>
<text x="144" y="374.48" font-size="13.6" text-anchor="start" font-weight="normal" >8</text>
<rect x="200.3" y="375" width="9.36" height="16.8" fill="#fff"/>
<rect x="198.7" y="380.4" width="12.76" height="6" fill="#fff"/>
<text x="201.5" y="388" font-size="13.6" text-anchor="start" font-weight="normal" >7</text>
<rect x="142.8" y="387.3" width="9.36" height="16.8" fill="#fff"/>
<rect x="141.2" y="392.7" width="12.76" height="6" fill="#fff"/>
<text x="144" y="400.3" font-size="13.6" text-anchor="start" font-weight="normal" >6</text>
<rect x="200.3" y="401.14" width="9.36" height="16.8" fill="#fff"/>
<rect x="198.7" y="406.54" width="12.76" height="6" fill="#fff"/>
<text x="201.5" y="414.14" font-size="13.6" text-anchor="start" font-weight="normal" >5</text>
<rect x="142.8" y="414.82" width="9.36" height="16.8" fill="#fff"/>
<rect x="141.2" y="420.22" width="12.76" height="6" fill="#fff"/>
<text x="144" y="427.82" font-size="13.6" text-anchor="start" font-weight="normal" >4</text>
<rect x="200.3" y="427.39" width="9.36" height="16.8" fill="#fff"/>
<rect x="198.7" y="432.79" width="12.76" height="6" fill="#fff"/>
<text x="201.5" y="440.39" font-size="13.6" text-anchor="start" font-weight="normal" >3</text>
<rect x="142.8" y="440.05" width="9.36" height="16.8" fill="#fff"/>
<rect x="141.2" y="445.45" width="12.76" height="6" fill="#fff"/>
<text x="144" y="453.05" font-size="13.6" text-anchor="start" font-weight="normal" >2</text>
<rect x="555.6" y="39" width="188.3" height="79" fill="#fff" stroke="#5a5a5a" stroke-width="1.3"/>
<text x="650.3" y="68.3" font-size="24.2" text-anchor="middle" font-weight="bold" textLength="126" lengthAdjust="spacing">LVR5,LVS5</text>
<text x="650" y="90.7" font-size="16.5" text-anchor="middle" font-weight="normal" >50Hz</text>
<text x="650" y="108.3" font-size="13.8" text-anchor="middle" font-weight="normal" >ISO 9906 Annex A</text>
<line x1="115" y1="520.3" x2="744" y2="520.3" stroke="#8a8a8a" stroke-width="1"/>
<line x1="115" y1="520.3" x2="115" y2="531.9" stroke="#8a8a8a" stroke-width="1"/>
<text x="115" y="551" font-size="13.6" text-anchor="middle" font-weight="normal" >0</text>
<line x1="137.64" y1="520.3" x2="137.64" y2="526.1" stroke="#8a8a8a" stroke-width="1"/>
<line x1="160.29" y1="520.3" x2="160.29" y2="526.1" stroke="#8a8a8a" stroke-width="1"/>
<line x1="182.93" y1="520.3" x2="182.93" y2="526.1" stroke="#8a8a8a" stroke-width="1"/>
<line x1="205.58" y1="520.3" x2="205.58" y2="526.1" stroke="#8a8a8a" stroke-width="1"/>
<line x1="228.22" y1="520.3" x2="228.22" y2="531.9" stroke="#8a8a8a" stroke-width="1"/>
<text x="228.22" y="551" font-size="13.6" text-anchor="middle" font-weight="normal" >0.5</text>
<line x1="250.86" y1="520.3" x2="250.86" y2="526.1" stroke="#8a8a8a" stroke-width="1"/>
<line x1="273.51" y1="520.3" x2="273.51" y2="526.1" stroke="#8a8a8a" stroke-width="1"/>
<line x1="296.15" y1="520.3" x2="296.15" y2="526.1" stroke="#8a8a8a" stroke-width="1"/>
<line x1="318.8" y1="520.3" x2="318.8" y2="526.1" stroke="#8a8a8a" stroke-width="1"/>
<line x1="341.44" y1="520.3" x2="341.44" y2="531.9" stroke="#8a8a8a" stroke-width="1"/>
<text x="341.44" y="551" font-size="13.6" text-anchor="middle" font-weight="normal" >1.0</text>
<line x1="364.08" y1="520.3" x2="364.08" y2="526.1" stroke="#8a8a8a" stroke-width="1"/>
<line x1="386.73" y1="520.3" x2="386.73" y2="526.1" stroke="#8a8a8a" stroke-width="1"/>
<line x1="409.37" y1="520.3" x2="409.37" y2="526.1" stroke="#8a8a8a" stroke-width="1"/>
<line x1="432.02" y1="520.3" x2="432.02" y2="526.1" stroke="#8a8a8a" stroke-width="1"/>
<line x1="454.66" y1="520.3" x2="454.66" y2="531.9" stroke="#8a8a8a" stroke-width="1"/>
<text x="454.66" y="551" font-size="13.6" text-anchor="middle" font-weight="normal" >1.5</text>
<line x1="477.3" y1="520.3" x2="477.3" y2="526.1" stroke="#8a8a8a" stroke-width="1"/>
<line x1="499.95" y1="520.3" x2="499.95" y2="526.1" stroke="#8a8a8a" stroke-width="1"/>
<line x1="522.59" y1="520.3" x2="522.59" y2="526.1" stroke="#8a8a8a" stroke-width="1"/>
<line x1="545.24" y1="520.3" x2="545.24" y2="526.1" stroke="#8a8a8a" stroke-width="1"/>
<line x1="567.88" y1="520.3" x2="567.88" y2="531.9" stroke="#8a8a8a" stroke-width="1"/>
<text x="567.88" y="551" font-size="13.6" text-anchor="middle" font-weight="normal" >2.0</text>
<line x1="590.52" y1="520.3" x2="590.52" y2="526.1" stroke="#8a8a8a" stroke-width="1"/>
<line x1="613.17" y1="520.3" x2="613.17" y2="526.1" stroke="#8a8a8a" stroke-width="1"/>
<line x1="635.81" y1="520.3" x2="635.81" y2="526.1" stroke="#8a8a8a" stroke-width="1"/>
<line x1="658.46" y1="520.3" x2="658.46" y2="526.1" stroke="#8a8a8a" stroke-width="1"/>
<line x1="681.1" y1="520.3" x2="681.1" y2="531.9" stroke="#8a8a8a" stroke-width="1"/>
<text x="681.1" y="551" font-size="13.6" text-anchor="middle" font-weight="normal" >2.5</text>
<line x1="703.74" y1="520.3" x2="703.74" y2="526.1" stroke="#8a8a8a" stroke-width="1"/>
<line x1="726.39" y1="520.3" x2="726.39" y2="526.1" stroke="#8a8a8a" stroke-width="1"/>
<text x="710" y="551.7" font-size="13.6" text-anchor="start" font-weight="normal" textLength="45.6" lengthAdjust="spacing">Q (л/с)</text>
<line x1="107.4" y1="722.21" x2="748.5" y2="722.21" stroke="#cccccc" stroke-width="1.2"/>
<line x1="107.4" y1="722.21" x2="113.4" y2="722.21" stroke="#8a8a8a" stroke-width="1"/>
<line x1="742.5" y1="722.21" x2="748.5" y2="722.21" stroke="#8a8a8a" stroke-width="1"/>
<line x1="101.4" y1="704.86" x2="754.5" y2="704.86" stroke="#9a9a9a" stroke-width="1.2"/>
<line x1="101.4" y1="704.86" x2="113.4" y2="704.86" stroke="#8a8a8a" stroke-width="1"/>
<line x1="742.5" y1="704.86" x2="754.5" y2="704.86" stroke="#8a8a8a" stroke-width="1"/>
<line x1="107.4" y1="687.52" x2="748.5" y2="687.52" stroke="#cccccc" stroke-width="1.2"/>
<line x1="107.4" y1="687.52" x2="113.4" y2="687.52" stroke="#8a8a8a" stroke-width="1"/>
<line x1="742.5" y1="687.52" x2="748.5" y2="687.52" stroke="#8a8a8a" stroke-width="1"/>
<line x1="101.4" y1="670.17" x2="754.5" y2="670.17" stroke="#9a9a9a" stroke-width="1.2"/>
<line x1="101.4" y1="670.17" x2="113.4" y2="670.17" stroke="#8a8a8a" stroke-width="1"/>
<line x1="742.5" y1="670.17" x2="754.5" y2="670.17" stroke="#8a8a8a" stroke-width="1"/>
<line x1="107.4" y1="652.83" x2="748.5" y2="652.83" stroke="#cccccc" stroke-width="1.2"/>
<line x1="107.4" y1="652.83" x2="113.4" y2="652.83" stroke="#8a8a8a" stroke-width="1"/>
<line x1="742.5" y1="652.83" x2="748.5" y2="652.83" stroke="#8a8a8a" stroke-width="1"/>
<line x1="101.4" y1="635.49" x2="754.5" y2="635.49" stroke="#9a9a9a" stroke-width="1.2"/>
<line x1="101.4" y1="635.49" x2="113.4" y2="635.49" stroke="#8a8a8a" stroke-width="1"/>
<line x1="742.5" y1="635.49" x2="754.5" y2="635.49" stroke="#8a8a8a" stroke-width="1"/>
<line x1="107.4" y1="618.14" x2="748.5" y2="618.14" stroke="#cccccc" stroke-width="1.2"/>
<line x1="107.4" y1="618.14" x2="113.4" y2="618.14" stroke="#8a8a8a" stroke-width="1"/>
<line x1="742.5" y1="618.14" x2="748.5" y2="618.14" stroke="#8a8a8a" stroke-width="1"/>
<line x1="144.86" y1="600.8" x2="144.86" y2="739.55" stroke="#cfcfcf" stroke-width="1.2"/>
<line x1="176.31" y1="600.8" x2="176.31" y2="739.55" stroke="#7a7a7a" stroke-width="1.2"/>
<line x1="207.76" y1="600.8" x2="207.76" y2="739.55" stroke="#cfcfcf" stroke-width="1.2"/>
<line x1="239.22" y1="600.8" x2="239.22" y2="739.55" stroke="#7a7a7a" stroke-width="1.2"/>
<line x1="270.67" y1="600.8" x2="270.67" y2="739.55" stroke="#cfcfcf" stroke-width="1.2"/>
<line x1="302.13" y1="600.8" x2="302.13" y2="739.55" stroke="#7a7a7a" stroke-width="1.2"/>
<line x1="333.59" y1="600.8" x2="333.59" y2="739.55" stroke="#cfcfcf" stroke-width="1.2"/>
<line x1="365.04" y1="600.8" x2="365.04" y2="739.55" stroke="#7a7a7a" stroke-width="1.2"/>
<line x1="396.5" y1="600.8" x2="396.5" y2="739.55" stroke="#cfcfcf" stroke-width="1.2"/>
<line x1="427.95" y1="600.8" x2="427.95" y2="739.55" stroke="#7a7a7a" stroke-width="1.2"/>
<line x1="459.4" y1="600.8" x2="459.4" y2="739.55" stroke="#cfcfcf" stroke-width="1.2"/>
<line x1="490.86" y1="600.8" x2="490.86" y2="739.55" stroke="#7a7a7a" stroke-width="1.2"/>
<line x1="522.31" y1="600.8" x2="522.31" y2="739.55" stroke="#cfcfcf" stroke-width="1.2"/>
<line x1="553.77" y1="600.8" x2="553.77" y2="739.55" stroke="#7a7a7a" stroke-width="1.2"/>
<line x1="585.23" y1="600.8" x2="585.23" y2="739.55" stroke="#cfcfcf" stroke-width="1.2"/>
<line x1="616.68" y1="600.8" x2="616.68" y2="739.55" stroke="#7a7a7a" stroke-width="1.2"/>
<line x1="648.13" y1="600.8" x2="648.13" y2="739.55" stroke="#cfcfcf" stroke-width="1.2"/>
<line x1="679.59" y1="600.8" x2="679.59" y2="739.55" stroke="#7a7a7a" stroke-width="1.2"/>
<line x1="711.04" y1="600.8" x2="711.04" y2="739.55" stroke="#cfcfcf" stroke-width="1.2"/>
<line x1="113.4" y1="739.55" x2="113.4" y2="751.05" stroke="#8a8a8a" stroke-width="1"/>
<line x1="144.86" y1="739.55" x2="144.86" y2="745.15" stroke="#8a8a8a" stroke-width="1"/>
<line x1="176.31" y1="739.55" x2="176.31" y2="751.05" stroke="#8a8a8a" stroke-width="1"/>
<line x1="207.76" y1="739.55" x2="207.76" y2="745.15" stroke="#8a8a8a" stroke-width="1"/>
<line x1="239.22" y1="739.55" x2="239.22" y2="751.05" stroke="#8a8a8a" stroke-width="1"/>
<line x1="270.67" y1="739.55" x2="270.67" y2="745.15" stroke="#8a8a8a" stroke-width="1"/>
<line x1="302.13" y1="739.55" x2="302.13" y2="751.05" stroke="#8a8a8a" stroke-width="1"/>
<line x1="333.59" y1="739.55" x2="333.59" y2="745.15" stroke="#8a8a8a" stroke-width="1"/>
<line x1="365.04" y1="739.55" x2="365.04" y2="751.05" stroke="#8a8a8a" stroke-width="1"/>
<line x1="396.5" y1="739.55" x2="396.5" y2="745.15" stroke="#8a8a8a" stroke-width="1"/>
<line x1="427.95" y1="739.55" x2="427.95" y2="751.05" stroke="#8a8a8a" stroke-width="1"/>
<line x1="459.4" y1="739.55" x2="459.4" y2="745.15" stroke="#8a8a8a" stroke-width="1"/>
<line x1="490.86" y1="739.55" x2="490.86" y2="751.05" stroke="#8a8a8a" stroke-width="1"/>
<line x1="522.31" y1="739.55" x2="522.31" y2="745.15" stroke="#8a8a8a" stroke-width="1"/>
<line x1="553.77" y1="739.55" x2="553.77" y2="751.05" stroke="#8a8a8a" stroke-width="1"/>
<line x1="585.23" y1="739.55" x2="585.23" y2="745.15" stroke="#8a8a8a" stroke-width="1"/>
<line x1="616.68" y1="739.55" x2="616.68" y2="751.05" stroke="#8a8a8a" stroke-width="1"/>
<line x1="648.13" y1="739.55" x2="648.13" y2="745.15" stroke="#8a8a8a" stroke-width="1"/>
<line x1="679.59" y1="739.55" x2="679.59" y2="751.05" stroke="#8a8a8a" stroke-width="1"/>
<line x1="711.04" y1="739.55" x2="711.04" y2="745.15" stroke="#8a8a8a" stroke-width="1"/>
<line x1="742.5" y1="739.55" x2="742.5" y2="751.05" stroke="#8a8a8a" stroke-width="1"/>
<line x1="101.4" y1="600.8" x2="113.4" y2="600.8" stroke="#8a8a8a" stroke-width="1.3"/>
<line x1="742.5" y1="600.8" x2="754.5" y2="600.8" stroke="#8a8a8a" stroke-width="1.3"/>
<line x1="101.4" y1="739.55" x2="113.4" y2="739.55" stroke="#8a8a8a" stroke-width="1.3"/>
<line x1="742.5" y1="739.55" x2="754.5" y2="739.55" stroke="#8a8a8a" stroke-width="1.3"/>
<line x1="113.4" y1="600.8" x2="742.5" y2="600.8" stroke="#454545" stroke-width="1.6"/>
<line x1="113.4" y1="739.55" x2="742.5" y2="739.55" stroke="#333333" stroke-width="1.5"/>
<line x1="113.4" y1="600.8" x2="113.4" y2="739.55" stroke="#333333" stroke-width="1.5"/>
<line x1="742.5" y1="600.8" x2="742.5" y2="739.55" stroke="#333333" stroke-width="1.5"/>
<text x="95.7" y="744.15" font-size="13.6" text-anchor="end" font-weight="normal" >0</text>
<text x="95.7" y="709.46" font-size="13.6" text-anchor="end" font-weight="normal" >0.05</text>
<text x="95.7" y="674.77" font-size="13.6" text-anchor="end" font-weight="normal" >0.10</text>
<text x="95.7" y="640.09" font-size="13.6" text-anchor="end" font-weight="normal" >0.15</text>
<text x="770" y="744.15" font-size="13.6" text-anchor="middle" font-weight="normal" >0</text>
<text x="770" y="709.46" font-size="13.6" text-anchor="middle" font-weight="normal" >20</text>
<text x="770" y="674.77" font-size="13.6" text-anchor="middle" font-weight="normal" >40</text>
<text x="770" y="640.09" font-size="13.6" text-anchor="middle" font-weight="normal" >40</text>
<text x="81.6" y="601" font-size="13.6" text-anchor="middle" font-weight="normal" >P<tspan font-size="8.6">2</tspan></text>
<text x="81.5" y="615.7" font-size="13.6" text-anchor="middle" font-weight="normal" >[kW]</text>
<text x="762.3" y="602" font-size="13.6" text-anchor="start" font-weight="normal" >Eta</text>
<text x="762.3" y="616" font-size="13.6" text-anchor="start" font-weight="normal" >[%]</text>
<text x="113.4" y="769.8" font-size="13.6" text-anchor="middle" font-weight="normal" >0</text>
<text x="176.31" y="769.8" font-size="13.6" text-anchor="middle" font-weight="normal" >1</text>
<text x="239.22" y="769.8" font-size="13.6" text-anchor="middle" font-weight="normal" >2</text>
<text x="302.13" y="769.8" font-size="13.6" text-anchor="middle" font-weight="normal" >3</text>
<text x="365.04" y="769.8" font-size="13.6" text-anchor="middle" font-weight="normal" >4</text>
<text x="427.95" y="769.8" font-size="13.6" text-anchor="middle" font-weight="normal" >5</text>
<text x="490.86" y="769.8" font-size="13.6" text-anchor="middle" font-weight="normal" >6</text>
<text x="553.77" y="769.8" font-size="13.6" text-anchor="middle" font-weight="normal" >7</text>
<text x="616.68" y="769.8" font-size="13.6" text-anchor="middle" font-weight="normal" >8</text>
<text x="710" y="770.5" font-size="13.6" text-anchor="start" font-weight="normal" textLength="52.3" lengthAdjust="spacing">Q (м³/ч)</text>
<polyline points="113.4,711.56 119.71,710.18 126.01,708.78 132.32,707.38 138.62,705.97 144.93,704.56 151.23,703.15 157.54,701.74 163.85,700.34 170.15,698.94 176.46,697.54 182.76,696.16 189.07,694.79 195.38,693.43 201.68,692.08 207.99,690.74 214.29,689.43 220.6,688.13 226.9,686.84 233.21,685.58 239.52,684.34 245.82,683.11 252.13,681.91 258.43,680.73 264.74,679.57 271.05,678.44 277.35,677.32 283.66,676.23 289.96,675.17 296.27,674.13 302.57,673.11 308.88,672.12 315.19,671.15 321.49,670.21 327.8,669.29 334.1,668.39 340.41,667.52 346.71,666.68 353.02,665.85 359.33,665.05 365.63,664.28 371.94,663.53 378.24,662.8 384.55,662.09 390.86,661.4 397.16,660.74 403.47,660.1 409.77,659.47 416.08,658.87 422.38,658.29 428.69,657.73 435,657.19 441.3,656.66 447.61,656.16 453.91,655.67 460.22,655.2 466.52,654.75 472.83,654.31 479.14,653.89 485.44,653.49 491.75,653.1 498.05,652.73 504.36,652.37 510.67,652.02 516.97,651.7 523.28,651.38 529.58,651.08 535.89,650.79 542.19,650.52 548.5,650.26 554.81,650.01 561.11,649.78 567.42,649.56 573.72,649.36 580.03,649.17 586.34,648.99 592.64,648.83 598.95,648.68 605.25,648.55 611.56,648.44 617.86,648.34 624.17,648.26 630.48,648.2 636.78,648.15 643.09,648.13 649.39,648.12" fill="none" stroke="#0e7590" stroke-width="1.8" stroke-linecap="round"/>
<polyline points="113.4,739.34 119.71,733.55 126.01,728.03 132.32,722.78 138.62,717.76 144.93,712.99 151.23,708.45 157.54,704.12 163.85,700 170.15,696.09 176.46,692.36 182.76,688.81 189.07,685.44 195.38,682.23 201.68,679.19 207.99,676.29 214.29,673.53 220.6,670.91 226.9,668.42 233.21,666.06 239.52,663.81 245.82,661.67 252.13,659.64 258.43,657.71 264.74,655.88 271.05,654.14 277.35,652.48 283.66,650.91 289.96,649.41 296.27,647.99 302.57,646.64 308.88,645.36 315.19,644.14 321.49,642.98 327.8,641.88 334.1,640.84 340.41,639.85 346.71,638.91 353.02,638.02 359.33,637.18 365.63,636.38 371.94,635.63 378.24,634.92 384.55,634.26 390.86,633.63 397.16,633.05 403.47,632.51 409.77,632 416.08,631.53 422.38,631.11 428.69,630.72 435,630.37 441.3,630.06 447.61,629.79 453.91,629.55 460.22,629.36 466.52,629.21 472.83,629.1 479.14,629.03 485.44,629.01 491.75,629.03 498.05,629.09 504.36,629.2 510.67,629.36 516.97,629.57 523.28,629.83 529.58,630.14 535.89,630.5 542.19,630.92 548.5,631.4 554.81,631.93 561.11,632.53 567.42,633.18 573.72,633.9 580.03,634.68 586.34,635.53 592.64,636.45 598.95,637.44 605.25,638.5 611.56,639.64 617.86,640.85 624.17,642.14 630.48,643.51 636.78,644.96 643.09,646.5 649.39,648.12" fill="none" stroke="#0e7590" stroke-width="1.8" stroke-linecap="round"/>
<rect x="511.6" y="610.4" width="24.5" height="17" fill="#fff"/>
<text x="514" y="623.4" font-size="13.6" text-anchor="start" font-weight="normal" >Eta</text>
<text x="504" y="666.2" font-size="13.6" text-anchor="start" font-weight="normal" >P<tspan font-size="8.6">2</tspan></text>
<line x1="107.4" y1="907.45" x2="748.5" y2="907.45" stroke="#cccccc" stroke-width="1.2"/>
<line x1="107.4" y1="907.45" x2="113.4" y2="907.45" stroke="#8a8a8a" stroke-width="1"/>
<line x1="742.5" y1="907.45" x2="748.5" y2="907.45" stroke="#8a8a8a" stroke-width="1"/>
<line x1="101.4" y1="890.1" x2="754.5" y2="890.1" stroke="#9a9a9a" stroke-width="1.2"/>
<line x1="101.4" y1="890.1" x2="113.4" y2="890.1" stroke="#8a8a8a" stroke-width="1"/>
<line x1="742.5" y1="890.1" x2="754.5" y2="890.1" stroke="#8a8a8a" stroke-width="1"/>
<line x1="107.4" y1="872.75" x2="748.5" y2="872.75" stroke="#cccccc" stroke-width="1.2"/>
<line x1="107.4" y1="872.75" x2="113.4" y2="872.75" stroke="#8a8a8a" stroke-width="1"/>
<line x1="742.5" y1="872.75" x2="748.5" y2="872.75" stroke="#8a8a8a" stroke-width="1"/>
<line x1="101.4" y1="855.4" x2="754.5" y2="855.4" stroke="#9a9a9a" stroke-width="1.2"/>
<line x1="101.4" y1="855.4" x2="113.4" y2="855.4" stroke="#8a8a8a" stroke-width="1"/>
<line x1="742.5" y1="855.4" x2="754.5" y2="855.4" stroke="#8a8a8a" stroke-width="1"/>
<line x1="107.4" y1="838.05" x2="748.5" y2="838.05" stroke="#cccccc" stroke-width="1.2"/>
<line x1="107.4" y1="838.05" x2="113.4" y2="838.05" stroke="#8a8a8a" stroke-width="1"/>
<line x1="742.5" y1="838.05" x2="748.5" y2="838.05" stroke="#8a8a8a" stroke-width="1"/>
<line x1="101.4" y1="820.7" x2="754.5" y2="820.7" stroke="#9a9a9a" stroke-width="1.2"/>
<line x1="101.4" y1="820.7" x2="113.4" y2="820.7" stroke="#8a8a8a" stroke-width="1"/>
<line x1="742.5" y1="820.7" x2="754.5" y2="820.7" stroke="#8a8a8a" stroke-width="1"/>
<line x1="107.4" y1="803.35" x2="748.5" y2="803.35" stroke="#cccccc" stroke-width="1.2"/>
<line x1="107.4" y1="803.35" x2="113.4" y2="803.35" stroke="#8a8a8a" stroke-width="1"/>
<line x1="742.5" y1="803.35" x2="748.5" y2="803.35" stroke="#8a8a8a" stroke-width="1"/>
<line x1="144.86" y1="786" x2="144.86" y2="924.8" stroke="#cfcfcf" stroke-width="1.2"/>
<line x1="176.31" y1="786" x2="176.31" y2="924.8" stroke="#7a7a7a" stroke-width="1.2"/>
<line x1="207.76" y1="786" x2="207.76" y2="924.8" stroke="#cfcfcf" stroke-width="1.2"/>
<line x1="239.22" y1="786" x2="239.22" y2="924.8" stroke="#7a7a7a" stroke-width="1.2"/>
<line x1="270.67" y1="786" x2="270.67" y2="924.8" stroke="#cfcfcf" stroke-width="1.2"/>
<line x1="302.13" y1="786" x2="302.13" y2="924.8" stroke="#7a7a7a" stroke-width="1.2"/>
<line x1="333.59" y1="786" x2="333.59" y2="924.8" stroke="#cfcfcf" stroke-width="1.2"/>
<line x1="365.04" y1="786" x2="365.04" y2="924.8" stroke="#7a7a7a" stroke-width="1.2"/>
<line x1="396.5" y1="786" x2="396.5" y2="924.8" stroke="#cfcfcf" stroke-width="1.2"/>
<line x1="427.95" y1="786" x2="427.95" y2="924.8" stroke="#7a7a7a" stroke-width="1.2"/>
<line x1="459.4" y1="786" x2="459.4" y2="924.8" stroke="#cfcfcf" stroke-width="1.2"/>
<line x1="490.86" y1="786" x2="490.86" y2="924.8" stroke="#7a7a7a" stroke-width="1.2"/>
<line x1="522.31" y1="786" x2="522.31" y2="924.8" stroke="#cfcfcf" stroke-width="1.2"/>
<line x1="553.77" y1="786" x2="553.77" y2="924.8" stroke="#7a7a7a" stroke-width="1.2"/>
<line x1="585.23" y1="786" x2="585.23" y2="924.8" stroke="#cfcfcf" stroke-width="1.2"/>
<line x1="616.68" y1="786" x2="616.68" y2="924.8" stroke="#7a7a7a" stroke-width="1.2"/>
<line x1="648.13" y1="786" x2="648.13" y2="924.8" stroke="#cfcfcf" stroke-width="1.2"/>
<line x1="679.59" y1="786" x2="679.59" y2="924.8" stroke="#7a7a7a" stroke-width="1.2"/>
<line x1="711.04" y1="786" x2="711.04" y2="924.8" stroke="#cfcfcf" stroke-width="1.2"/>
<line x1="113.4" y1="924.8" x2="113.4" y2="936.3" stroke="#8a8a8a" stroke-width="1"/>
<line x1="144.86" y1="924.8" x2="144.86" y2="930.4" stroke="#8a8a8a" stroke-width="1"/>
<line x1="176.31" y1="924.8" x2="176.31" y2="936.3" stroke="#8a8a8a" stroke-width="1"/>
<line x1="207.76" y1="924.8" x2="207.76" y2="930.4" stroke="#8a8a8a" stroke-width="1"/>
<line x1="239.22" y1="924.8" x2="239.22" y2="936.3" stroke="#8a8a8a" stroke-width="1"/>
<line x1="270.67" y1="924.8" x2="270.67" y2="930.4" stroke="#8a8a8a" stroke-width="1"/>
<line x1="302.13" y1="924.8" x2="302.13" y2="936.3" stroke="#8a8a8a" stroke-width="1"/>
<line x1="333.59" y1="924.8" x2="333.59" y2="930.4" stroke="#8a8a8a" stroke-width="1"/>
<line x1="365.04" y1="924.8" x2="365.04" y2="936.3" stroke="#8a8a8a" stroke-width="1"/>
<line x1="396.5" y1="924.8" x2="396.5" y2="930.4" stroke="#8a8a8a" stroke-width="1"/>
<line x1="427.95" y1="924.8" x2="427.95" y2="936.3" stroke="#8a8a8a" stroke-width="1"/>
<line x1="459.4" y1="924.8" x2="459.4" y2="930.4" stroke="#8a8a8a" stroke-width="1"/>
<line x1="490.86" y1="924.8" x2="490.86" y2="936.3" stroke="#8a8a8a" stroke-width="1"/>
<line x1="522.31" y1="924.8" x2="522.31" y2="930.4" stroke="#8a8a8a" stroke-width="1"/>
<line x1="553.77" y1="924.8" x2="553.77" y2="936.3" stroke="#8a8a8a" stroke-width="1"/>
<line x1="585.23" y1="924.8" x2="585.23" y2="930.4" stroke="#8a8a8a" stroke-width="1"/>
<line x1="616.68" y1="924.8" x2="616.68" y2="936.3" stroke="#8a8a8a" stroke-width="1"/>
<line x1="648.13" y1="924.8" x2="648.13" y2="930.4" stroke="#8a8a8a" stroke-width="1"/>
<line x1="679.59" y1="924.8" x2="679.59" y2="936.3" stroke="#8a8a8a" stroke-width="1"/>
<line x1="711.04" y1="924.8" x2="711.04" y2="930.4" stroke="#8a8a8a" stroke-width="1"/>
<line x1="742.5" y1="924.8" x2="742.5" y2="936.3" stroke="#8a8a8a" stroke-width="1"/>
<line x1="101.4" y1="786" x2="113.4" y2="786" stroke="#8a8a8a" stroke-width="1.4"/>
<line x1="742.5" y1="786" x2="754.5" y2="786" stroke="#8a8a8a" stroke-width="1.4"/>
<line x1="101.4" y1="924.8" x2="113.4" y2="924.8" stroke="#8a8a8a" stroke-width="1.4"/>
<line x1="742.5" y1="924.8" x2="754.5" y2="924.8" stroke="#8a8a8a" stroke-width="1.4"/>
<line x1="113.4" y1="786" x2="742.5" y2="786" stroke="#606060" stroke-width="1.8"/>
<line x1="113.4" y1="924.8" x2="742.5" y2="924.8" stroke="#505050" stroke-width="1.8"/>
<line x1="113.4" y1="786" x2="113.4" y2="924.8" stroke="#333333" stroke-width="1.5"/>
<line x1="742.5" y1="786" x2="742.5" y2="924.8" stroke="#333333" stroke-width="1.5"/>
<text x="96" y="929.4" font-size="13.6" text-anchor="end" font-weight="normal" >0</text>
<text x="770" y="929.4" font-size="13.6" text-anchor="middle" font-weight="normal" >0</text>
<text x="96" y="894.7" font-size="13.6" text-anchor="end" font-weight="normal" >2</text>
<text x="770" y="894.7" font-size="13.6" text-anchor="middle" font-weight="normal" >2</text>
<text x="96" y="860" font-size="13.6" text-anchor="end" font-weight="normal" >4</text>
<text x="770" y="860" font-size="13.6" text-anchor="middle" font-weight="normal" >4</text>
<text x="96" y="825.3" font-size="13.6" text-anchor="end" font-weight="normal" >6</text>
<text x="770" y="825.3" font-size="13.6" text-anchor="middle" font-weight="normal" >6</text>
<text x="91.3" y="788.2" font-size="13.6" text-anchor="middle" font-weight="normal" >H</text>
<text x="91.3" y="802" font-size="13.6" text-anchor="middle" font-weight="normal" >[m]</text>
<text x="761.5" y="789.5" font-size="13.6" text-anchor="start" font-weight="normal" >NPSH</text>
<text x="761.5" y="801.7" font-size="13.6" text-anchor="start" font-weight="normal" >[m]</text>
<text x="113.4" y="950.5" font-size="13.6" text-anchor="middle" font-weight="normal" >0</text>
<text x="176.31" y="950.5" font-size="13.6" text-anchor="middle" font-weight="normal" >1</text>
<text x="239.22" y="950.5" font-size="13.6" text-anchor="middle" font-weight="normal" >2</text>
<text x="302.13" y="950.5" font-size="13.6" text-anchor="middle" font-weight="normal" >3</text>
<text x="365.04" y="950.5" font-size="13.6" text-anchor="middle" font-weight="normal" >4</text>
<text x="427.95" y="950.5" font-size="13.6" text-anchor="middle" font-weight="normal" >5</text>
<text x="490.86" y="950.5" font-size="13.6" text-anchor="middle" font-weight="normal" >6</text>
<text x="553.77" y="950.5" font-size="13.6" text-anchor="middle" font-weight="normal" >7</text>
<text x="616.68" y="950.5" font-size="13.6" text-anchor="middle" font-weight="normal" >8</text>
<text x="710" y="951" font-size="13.6" text-anchor="start" font-weight="normal" textLength="52.3" lengthAdjust="spacing">Q (м³/ч)</text>
<rect x="130.6" y="792.8" width="77.3" height="16.5" fill="#fff"/>
<rect x="131.7" y="901.9" width="42.2" height="16.8" fill="#fff"/>
<polyline points="113.4,811.73 119.71,811.58 126.01,811.46 132.32,811.35 138.62,811.26 144.93,811.19 151.23,811.15 157.54,811.12 163.85,811.11 170.15,811.13 176.46,811.16 182.76,811.22 189.07,811.3 195.38,811.4 201.68,811.51 207.99,811.65 214.29,811.82 220.6,812 226.9,812.2 233.21,812.42 239.52,812.66 245.82,812.92 252.13,813.21 258.43,813.51 264.74,813.83 271.05,814.17 277.35,814.53 283.66,814.91 289.96,815.31 296.27,815.72 302.57,816.15 308.88,816.61 315.19,817.08 321.49,817.56 327.8,818.07 334.1,818.59 340.41,819.13 346.71,819.68 353.02,820.25 359.33,820.84 365.63,821.45 371.94,822.07 378.24,822.7 384.55,823.36 390.86,824.02 397.16,824.71 403.47,825.41 409.77,826.12 416.08,826.85 422.38,827.6 428.69,828.36 435,829.14 441.3,829.93 447.61,830.74 453.91,831.57 460.22,832.41 466.52,833.27 472.83,834.15 479.14,835.04 485.44,835.95 491.75,836.88 498.05,837.83 504.36,838.8 510.67,839.78 516.97,840.79 523.28,841.81 529.58,842.86 535.89,843.93 542.19,845.02 548.5,846.13 554.81,847.27 561.11,848.44 567.42,849.63 573.72,850.84 580.03,852.09 586.34,853.37 592.64,854.67 598.95,856.01 605.25,857.38 611.56,858.78 617.86,860.22 624.17,861.7 630.48,863.22 636.78,864.78 643.09,866.38 649.39,868.03" fill="none" stroke="#0e7590" stroke-width="1.8" stroke-linecap="round"/>
<polyline points="113.4,900.19 119.71,900.32 126.01,900.44 132.32,900.53 138.62,900.61 144.93,900.67 151.23,900.7 157.54,900.72 163.85,900.71 170.15,900.69 176.46,900.65 182.76,900.58 189.07,900.5 195.38,900.39 201.68,900.27 207.99,900.12 214.29,899.95 220.6,899.76 226.9,899.55 233.21,899.32 239.52,899.07 245.82,898.79 252.13,898.49 258.43,898.17 264.74,897.83 271.05,897.46 277.35,897.07 283.66,896.65 289.96,896.21 296.27,895.74 302.57,895.25 308.88,894.73 315.19,894.19 321.49,893.62 327.8,893.02 334.1,892.39 340.41,891.73 346.71,891.04 353.02,890.33 359.33,889.58 365.63,888.8 371.94,887.99 378.24,887.14 384.55,886.26 390.86,885.35 397.16,884.4 403.47,883.41 409.77,882.39 416.08,881.33 422.38,880.23 428.69,879.1 435,877.92 441.3,876.7 447.61,875.44 453.91,874.13 460.22,872.78 466.52,871.38 472.83,869.94 479.14,868.45 485.44,866.91 491.75,865.32 498.05,863.68 504.36,861.99 510.67,860.25 516.97,858.45 523.28,856.59 529.58,854.68 535.89,852.71 542.19,850.68 548.5,848.59 554.81,846.44 561.11,844.22 567.42,841.94 573.72,839.59 580.03,837.17 586.34,834.69 592.64,832.13 598.95,829.5 605.25,826.8 611.56,824.02 617.86,821.16 624.17,818.23 630.48,815.21 636.78,812.11 643.09,808.93 649.39,805.67" fill="none" stroke="#0e7590" stroke-width="1.8" stroke-linecap="round"/>
<text x="133.5" y="805.9" font-size="13.6" text-anchor="start" font-weight="normal" textLength="71.4" lengthAdjust="spacingAndGlyphs">QH2900rpm</text>
<text x="134.1" y="912.5" font-size="13.6" text-anchor="start" font-weight="normal" >NPSH</text>
</svg></body></html>
